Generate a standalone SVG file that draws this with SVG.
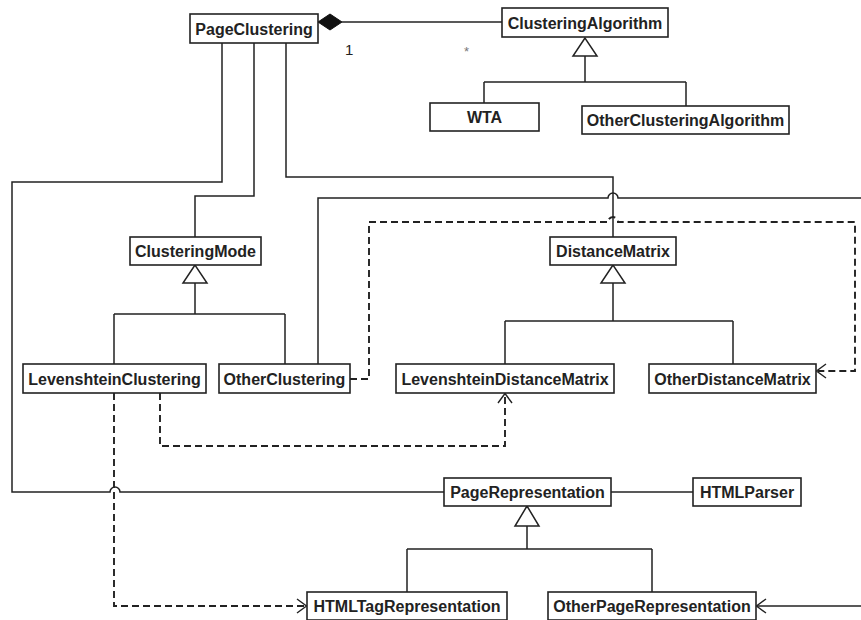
<svg xmlns="http://www.w3.org/2000/svg" width="861" height="620" viewBox="0 0 861 620">
<style>
.box{fill:#fff;stroke:#222;stroke-width:1.6}
.lbl{font-family:"Liberation Sans",Arial,sans-serif;font-weight:bold;font-size:16px;fill:#222;text-anchor:middle}
.ln{fill:none;stroke:#222;stroke-width:1.5}
.dash{fill:none;stroke:#222;stroke-width:1.9;stroke-dasharray:7 4}
.tri{fill:#fff;stroke:#222;stroke-width:1.5}
.arr{fill:none;stroke:#222;stroke-width:1.4}
.card{font-family:"Liberation Sans",Arial,sans-serif;fill:#222}
</style>
<rect width="861" height="620" fill="#fff"/>
<g id="connectors">
  <path class="ln" d="M342,22 H502"/>
  <path d="M318,22 L330,14 L342,22 L330,30 Z" fill="#111" stroke="#111"/>
  <text class="card" x="345" y="55" font-size="15">1</text>
  <text class="card" x="464" y="56" font-size="13" style="fill:#777">*</text>
  <path class="ln" d="M585,56 V82 M484,82 H686 M484,82 V103 M686,82 V106"/>
  <path class="tri" d="M585,38 L573,56 L597,56 Z"/>
  <path class="ln" d="M222,43 V182 H12 V492 H110 A5,5 0 0 1 120,492 H444"/>
  <path class="ln" d="M254,43 V196 H195 V237"/>
  <path class="ln" d="M286,43 V177 H613 V237"/>
  <path class="ln" d="M318,364 V198 H608 A5,5 0 0 1 618,198 H861"/>
  <path class="dash" d="M350,379 H369 V222 H608 A5,5 0 0 1 618,222 H855 V371 H818"/>
  <path class="arr" d="M826,364 L816.5,371 L826,378"/>
  <path class="ln" d="M195,283 V314 M114,314 H285 M114,314 V364 M285,314 V364"/>
  <path class="tri" d="M195,265 L183,283 L207,283 Z"/>
  <path class="ln" d="M613,283 V321 M505,321 H733 M505,321 V364 M733,321 V364"/>
  <path class="tri" d="M613,265 L601,283 L625,283 Z"/>
  <path class="dash" d="M160,393 V446 H505 V395"/>
  <path class="arr" d="M498,403 L505,393.5 L512,403"/>
  <path class="dash" d="M114,393 V606 H305"/>
  <path class="arr" d="M297,599 L306.5,606 L297,613"/>
  <path class="ln" d="M611,492 H693"/>
  <path class="ln" d="M527,526 V549 M407,549 H652 M407,549 V592 M652,549 V592"/>
  <path class="tri" d="M527,506 L515,526 L539,526 Z"/>
  <path class="ln" d="M861,606 H757"/>
  <path class="arr" d="M766,599 L756.5,606 L766,613"/>
</g>
<g id="PageClustering"><rect class="box" x="190" y="14" width="128" height="29"/><text class="lbl" x="254" y="34.5">PageClustering</text></g>
<g id="ClusteringAlgorithm"><rect class="box" x="502" y="8" width="166" height="29"/><text class="lbl" x="585" y="28.5">ClusteringAlgorithm</text></g>
<g id="WTA"><rect class="box" x="430" y="103" width="109" height="28"/><text class="lbl" x="484.5" y="122.5">WTA</text></g>
<g id="OtherClusteringAlgorithm"><rect class="box" x="582" y="106" width="207" height="28"/><text class="lbl" x="685.5" y="125.5">OtherClusteringAlgorithm</text></g>
<g id="ClusteringMode"><rect class="box" x="130" y="237" width="131" height="28"/><text class="lbl" x="195.5" y="256.5">ClusteringMode</text></g>
<g id="DistanceMatrix"><rect class="box" x="550" y="237" width="126" height="28"/><text class="lbl" x="613" y="256.5">DistanceMatrix</text></g>
<g id="LevenshteinClustering"><rect class="box" x="23" y="364" width="183" height="29"/><text class="lbl" x="114.5" y="384.5">LevenshteinClustering</text></g>
<g id="OtherClustering"><rect class="box" x="219" y="364" width="131" height="29"/><text class="lbl" x="284.5" y="384.5">OtherClustering</text></g>
<g id="LevenshteinDistanceMatrix"><rect class="box" x="396" y="364" width="218" height="29"/><text class="lbl" x="505" y="384.5">LevenshteinDistanceMatrix</text></g>
<g id="OtherDistanceMatrix"><rect class="box" x="649" y="364" width="167" height="29"/><text class="lbl" x="732.5" y="384.5">OtherDistanceMatrix</text></g>
<g id="PageRepresentation"><rect class="box" x="444" y="478" width="167" height="28"/><text class="lbl" x="527.5" y="497.5">PageRepresentation</text></g>
<g id="HTMLParser"><rect class="box" x="693" y="478" width="108" height="28"/><text class="lbl" x="747" y="497.5">HTMLParser</text></g>
<g id="HTMLTagRepresentation"><rect class="box" x="307" y="592" width="200" height="28"/><text class="lbl" x="407" y="611.5">HTMLTagRepresentation</text></g>
<g id="OtherPageRepresentation"><rect class="box" x="548" y="592" width="208" height="28"/><text class="lbl" x="652" y="611.5">OtherPageRepresentation</text></g>
</svg>
